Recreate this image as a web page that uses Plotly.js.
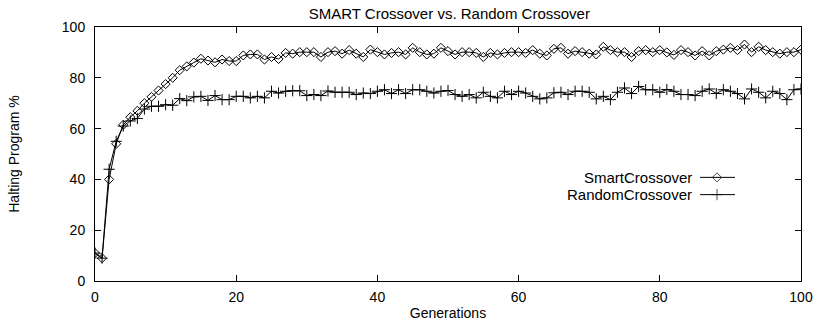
<!DOCTYPE html>
<html>
<head>
<meta charset="utf-8">
<script src="https://cdn.plot.ly/plotly-3.0.1.min.js"></script>
<style>
html,body{margin:0;padding:0;background:#fff;}
#chart{width:817px;height:321px;}
</style>
</head>
<body>
<div id="chart"></div>
<script>
const generations = Array.from({length: 101}, (_, i) => i);

const smartCrossover = [
  11, 9, 40, 54, 61.5, 64.5, 67, 70, 72.5, 75,
  77.5, 80, 83, 84.5, 86, 87.5, 86.8, 86.1, 87.2, 86.6,
  86.6, 88.8, 89.2, 89.2, 87.2, 88.2, 87.4, 89.8, 89.5, 90.1,
  90.1, 90.1, 88.2, 90.1, 90.5, 89.5, 90.9, 89.5, 88.2, 91.1,
  90.1, 89.2, 89.8, 90.1, 89.2, 91.8, 90.1, 89.2, 89.5, 91.8,
  90.5, 89.2, 90.1, 90.1, 89.8, 88.2, 89.8, 89.2, 89.8, 90.1,
  90.1, 89.8, 90.9, 89.5, 88.8, 91.4, 91.8, 89.5, 90.5, 90.1,
  89.5, 89.2, 92.2, 90.9, 90.1, 90.1, 88.2, 90.5, 90.9, 90.1,
  90.9, 90.0, 89.0, 90.9, 90.1, 88.8, 90.5, 88.8, 90.5, 91.1,
  91.8, 90.9, 93.1, 90.1, 92.2, 90.9, 90.1, 89.5, 90.1, 90.1,
  91.1
];

const randomCrossover = [
  11, 9, 44, 55, 61, 63, 64, 67.7, 68.8, 68.8,
  69.4, 69.2, 71.8, 71, 72.5, 72.7, 71.1, 73, 71.4, 71.4,
  72.7, 72.7, 72.1, 72.7, 72.1, 74.7, 74, 74.7, 74.9, 74.9,
  73, 73.4, 73, 74.8, 74.3, 74.3, 74.3, 73.4, 74, 73.8,
  74.7, 75.3, 73.8, 75.3, 73.8, 75.3, 75.3, 74.7, 74, 74.7,
  75, 73.4, 72.7, 73.4, 72.1, 74.3, 72.7, 72.1, 74.7, 73.4,
  74.7, 74, 72.7, 71.7, 72.1, 74.1, 74.3, 73.4, 74.7, 74.7,
  74.3, 71.7, 72.7, 71.4, 74.3, 76, 73.8, 76.6, 75.3, 75.3,
  74.3, 75.4, 74.7, 73.4, 73.4, 73, 74.7, 75.6, 73.8, 75.3,
  74.7, 73.8, 71.7, 75.6, 74.3, 72.1, 74.7, 73.8, 71.4, 75.3,
  75.6
];

const seriesNames = ["SmartCrossover", "RandomCrossover"];
const xTicks = [0, 20, 40, 60, 80, 100];
const yTicks = [0, 20, 40, 60, 80, 100];

const FONT = "Liberation Sans, Arial, Helvetica, sans-serif";
const fs = 14;

// legend sample geometry (paper coords of the overlay axes)
const legX = [0.857, 0.881, 0.9065];
const legRows = [0.408, 0.340];

const traces = [
  {
    x: generations, y: smartCrossover, name: seriesNames[0],
    mode: "lines+markers", type: "scatter",
    line: {color: "#000", width: 1},
    marker: {symbol: "diamond-open", size: 7, color: "#000", line: {width: 1, color: "#000"}},
    showlegend: false
  },
  {
    x: generations, y: randomCrossover, name: seriesNames[1],
    mode: "lines+markers", type: "scatter",
    line: {color: "#000", width: 1},
    marker: {symbol: "cross-thin-open", size: 8, color: "#000", line: {width: 1, color: "#000"}},
    showlegend: false
  },
  {
    x: legX, y: [legRows[0], legRows[0], legRows[0]], xaxis: "x2", yaxis: "y2",
    mode: "lines+markers", type: "scatter", hoverinfo: "skip",
    line: {color: "#000", width: 1},
    marker: {symbol: "diamond-open", size: [0, 7, 0], color: "#000", line: {width: 1, color: "#000"}},
    showlegend: false
  },
  {
    x: legX, y: [legRows[1], legRows[1], legRows[1]], xaxis: "x2", yaxis: "y2",
    mode: "lines+markers", type: "scatter", hoverinfo: "skip",
    line: {color: "#000", width: 1},
    marker: {symbol: "cross-thin-open", size: [0, 8, 0], color: "#000", line: {width: 1, color: "#000"}},
    showlegend: false
  }
];

const axisCommon = {
  showline: true, linecolor: "#000", linewidth: 1,
  mirror: "ticks", ticks: "inside", ticklen: 6, tickwidth: 1, tickcolor: "#000",
  showgrid: false, zeroline: false,
  tickfont: {family: FONT, size: fs, color: "#000"}
};

const layout = {
  width: 817, height: 321,
  margin: {l: 95, r: 16, t: 27, b: 40},
  paper_bgcolor: "#fff", plot_bgcolor: "#fff",
  font: {family: FONT, size: fs, color: "#000"},
  title: {
    text: "SMART Crossover vs. Random Crossover",
    font: {family: FONT, size: 15, color: "#000"},
    x: 0.55, xanchor: "center", y: 0.957, yanchor: "middle"
  },
  xaxis: Object.assign({}, axisCommon, {
    range: [0, 100], tickvals: xTicks, ticktext: xTicks.map(String),
    ticklabelstandoff: 3,
    title: {text: "Generations", font: {family: FONT, size: fs, color: "#000"}, standoff: 6}
  }),
  yaxis: Object.assign({}, axisCommon, {
    range: [0, 100], tickvals: yTicks, ticktext: yTicks.map(String),
    ticklabelstandoff: 6,
    title: {text: "Halting Program %", font: {family: FONT, size: fs, color: "#000"}, standoff: 38}
  }),
  xaxis2: {overlaying: "x", range: [0, 1], visible: false, fixedrange: true},
  yaxis2: {overlaying: "y", range: [0, 1], visible: false, fixedrange: true},
  annotations: [
    {xref: "paper", yref: "paper", x: 0.849, y: legRows[0], xanchor: "right", yanchor: "middle",
     text: seriesNames[0], showarrow: false, font: {family: FONT, size: 15, color: "#000"}},
    {xref: "paper", yref: "paper", x: 0.849, y: legRows[1], xanchor: "right", yanchor: "middle",
     text: seriesNames[1], showarrow: false, font: {family: FONT, size: 15, color: "#000"}}
  ]
};

Plotly.newPlot("chart", traces, layout, {staticPlot: true, displayModeBar: false});
</script>
</body>
</html>
